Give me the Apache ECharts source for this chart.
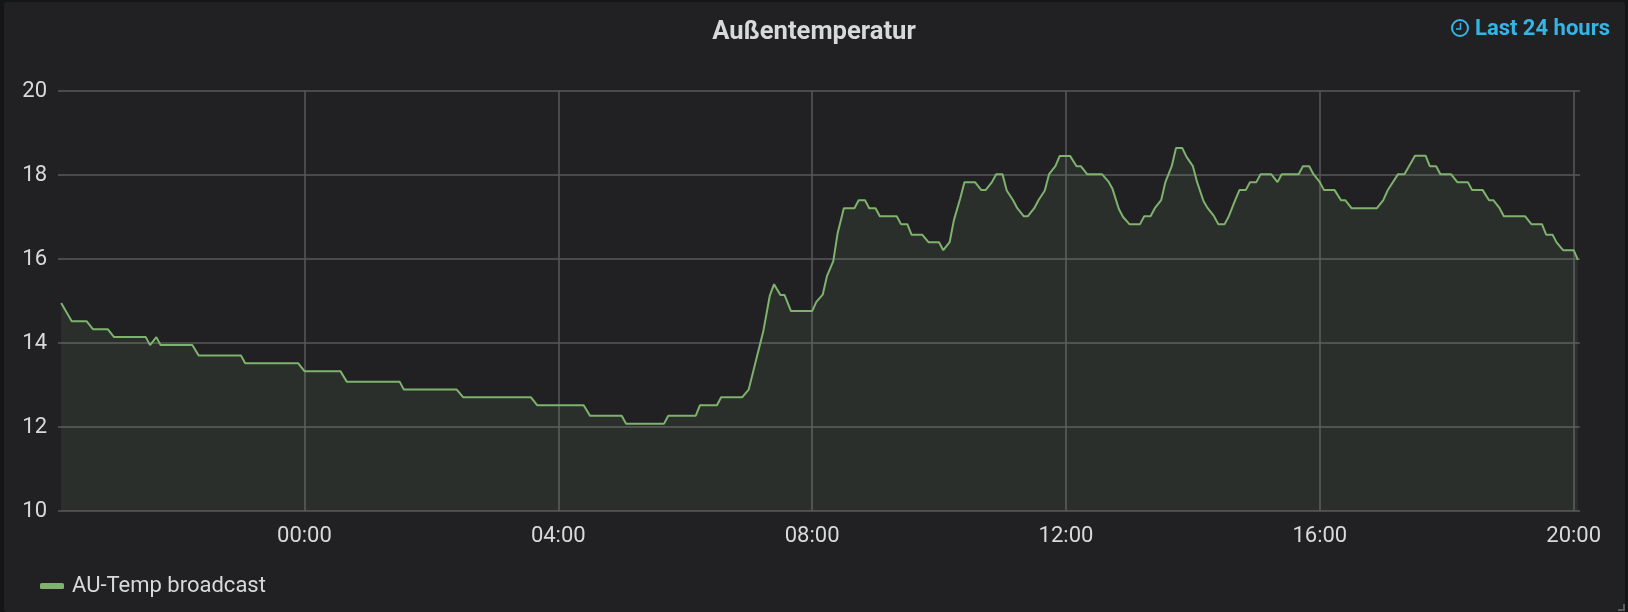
<!DOCTYPE html>
<html>
<head>
<meta charset="utf-8">
<style>html,body{margin:0;padding:0;background:#141517;overflow:hidden}#c{width:1628px;height:612px}</style>
<script src="https://cdn.jsdelivr.net/npm/echarts@6/dist/echarts.min.js"></script>
</head>
<body>
<div id="c"></div>
<script>
const chartTitle = 'Außentemperatur';
const timeRangeLabel = 'Last 24 hours';
const seriesName = 'AU-Temp broadcast';
const yTicks = [10, 12, 14, 16, 18, 20];
const xTickMinutes = [0, 240, 480, 720, 960, 1200];
const xTickLabels = ['00:00', '04:00', '08:00', '12:00', '16:00', '20:00'];
// minutes relative to midnight
const minutes = [-230,-220,-206,-200,-186,-180,-150,-146,-140,-136,-106,-100,-60,-56,-6,0,34,40,90,94,144,150,214,220,264,270,300,304,340,344,370,374,390,394,414,420,434,440,444,450,454,460,480,484,490,494,500,504,510,520,524,530,534,540,544,560,564,570,574,584,590,600,604,610,614,620,624,634,640,644,650,654,660,664,670,674,680,684,690,694,700,704,710,714,724,730,734,740,754,760,764,770,774,780,790,794,800,804,810,814,820,824,830,834,840,844,850,854,860,864,870,874,880,884,890,894,900,904,914,920,924,940,944,950,954,960,964,974,980,984,990,1014,1020,1024,1034,1040,1050,1060,1064,1070,1074,1084,1090,1100,1104,1114,1120,1124,1130,1134,1154,1160,1170,1174,1180,1184,1190,1200,1204];
const temps = [14.95,14.52,14.52,14.33,14.33,14.14,14.14,13.95,14.14,13.95,13.95,13.7,13.7,13.52,13.52,13.33,13.33,13.08,13.08,12.89,12.89,12.71,12.71,12.52,12.52,12.27,12.27,12.08,12.08,12.27,12.27,12.52,12.52,12.71,12.71,12.89,14.3,15.13,15.4,15.14,15.14,14.76,14.76,14.98,15.15,15.59,15.95,16.6,17.21,17.21,17.4,17.4,17.21,17.21,17.02,17.02,16.83,16.83,16.58,16.58,16.4,16.4,16.21,16.4,16.92,17.44,17.83,17.83,17.64,17.64,17.83,18.02,18.02,17.63,17.4,17.21,17.02,17.02,17.21,17.4,17.63,18.02,18.21,18.45,18.45,18.21,18.21,18.02,18.02,17.85,17.67,17.19,17.0,16.83,16.83,17.02,17.02,17.21,17.4,17.83,18.21,18.64,18.64,18.43,18.21,17.83,17.38,17.21,17.02,16.83,16.83,17.02,17.4,17.64,17.64,17.83,17.83,18.02,18.02,17.83,18.02,18.02,18.21,18.21,18.02,17.83,17.64,17.64,17.4,17.4,17.21,17.21,17.4,17.63,18.02,18.02,18.46,18.46,18.21,18.21,18.02,18.02,17.83,17.83,17.64,17.64,17.4,17.4,17.21,17.02,17.02,16.83,16.83,16.58,16.58,16.39,16.21,16.21,15.98];

const points = minutes.map((m, i) => [m, temps[i]]);
const textColor = '#d8d9da';
const gridColor = '#58595b';
const chart = echarts.init(document.getElementById('c'));
chart.setOption({
  animation: false,
  backgroundColor: 'transparent',
  textStyle: { fontFamily: 'Roboto' },
  title: {
    text: chartTitle, left: 809, top: 15, textAlign: 'center',
    textStyle: { color: textColor, fontSize: 25.6, fontWeight: 'bold', fontFamily: 'Roboto' }
  },
  legend: {
    show: true, left: 40, top: 575, padding: 0, itemWidth: 24, itemHeight: 6, itemGap: 6,
    icon: 'roundRect',
    data: [{ name: seriesName, itemStyle: { color: '#7eb26d' } }],
    textStyle: { color: textColor, fontSize: 22, fontFamily: 'Roboto', padding: [0, 0, 0, 3] }
  },
  grid: { left: 58, right: 48, top: 91, bottom: 101, containLabel: false },
  xAxis: {
    type: 'value', min: -233, max: 1206,
    axisLine: { show: false }, axisTick: { show: false, customValues: xTickMinutes },
    axisLabel: {
      customValues: xTickMinutes, color: textColor, fontSize: 22, margin: 14, fontFamily: 'Roboto',
      formatter: v => xTickLabels[xTickMinutes.indexOf(v)]
    },
    splitLine: { show: true, lineStyle: { color: gridColor, width: 1.5 } }
  },
  yAxis: {
    type: 'value', min: 10, max: 20, interval: 2,
    axisLine: { show: false }, axisTick: { show: false },
    axisLabel: { color: textColor, fontSize: 22, margin: 11, fontFamily: 'Roboto' },
    splitLine: { show: true, lineStyle: { color: gridColor, width: 1.5 } }
  },
  series: [{
    name: seriesName, type: 'line', data: points, showSymbol: false, smooth: false,
    lineStyle: { color: '#7eb26d', width: 2 },
    itemStyle: { color: '#7eb26d' },
    areaStyle: { color: '#7eb26d', opacity: 0.1 }
  }],
  graphic: [
    { type: 'rect', z: -10, silent: true, shape: { x: 4, y: 2, width: 1621, height: 610, r: 3 }, style: { fill: '#212124' } },
    { type: 'text', z: 10, silent: true, style: { text: timeRangeLabel, x: 1610, y: 29, align: 'right', verticalAlign: 'middle', fill: '#33b5e5', font: 'bold 22px Roboto' } },
    { type: 'circle', z: 10, silent: true, shape: { cx: 1460, cy: 28, r: 8 }, style: { fill: 'none', stroke: '#33b5e5', lineWidth: 2 } },
    { type: 'polyline', z: 10, silent: true, shape: { points: [[1460.5, 23], [1460.5, 29], [1456, 29]] }, style: { fill: 'none', stroke: '#33b5e5', lineWidth: 1.5 } },
    { type: 'polyline', z: 10, silent: true, shape: { points: [[1618, 610], [1624, 610], [1624, 604]] }, style: { fill: 'none', stroke: '#5a5b5d', lineWidth: 2 } }
  ]
});
</script>
</body>
</html>
